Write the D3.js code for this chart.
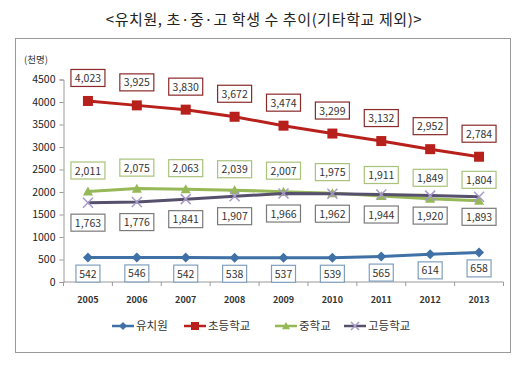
<!DOCTYPE html>
<html>
<head>
<meta charset="utf-8">
<script src="https://cdn.jsdelivr.net/npm/d3@7"></script>
<style>
body { margin: 0; background: #fff; }
text { font-family: "Noto Sans CJK KR", "Noto Sans", sans-serif; }
</style>
</head>
<body>
<svg id="chart" width="529" height="366"></svg>
<script>
// data
var years = ["2005", "2006", "2007", "2008", "2009", "2010", "2011", "2012", "2013"];
var kinder = [542, 546, 542, 538, 537, 539, 565, 614, 658];
var elem = [4023, 3925, 3830, 3672, 3474, 3299, 3132, 2952, 2784];
var middle = [2011, 2075, 2063, 2039, 2007, 1975, 1911, 1849, 1804];
var high = [1763, 1776, 1841, 1907, 1966, 1962, 1944, 1920, 1893];
var yTicks = [0, 500, 1000, 1500, 2000, 2500, 3000, 3500, 4000, 4500];

var series = [
    {name: "유치원", values: kinder, color: "#3f70a6", marker: "diamond", labelDy: 16, box: "#7f9fbf", boxW: 24},
    {name: "초등학교", values: elem, color: "#b8201c", marker: "square", labelDy: -23, box: "#8a2a2a", boxW: 34},
    {name: "중학교", values: middle, color: "#96b856", marker: "triangle", labelDy: -21, box: "#a9c27a", boxW: 34},
    {name: "고등학교", values: high, color: "#56506c", marker: "cross", labelDy: 20, box: "#7a7a7a", boxW: 34}
];

var svg = d3.select("#chart");

svg.append("text")
    .attr("x", 264).attr("y", 25)
    .attr("text-anchor", "middle")
    .attr("font-size", 15)
    .attr("letter-spacing", 0.6)
    .attr("fill", "#222")
    .text("<유치원, 초·중·고 학생 수 추이(기타학교 제외)>");

// frame
svg.append("rect")
    .attr("x", 15.5).attr("y", 38.5)
    .attr("width", 495).attr("height", 314)
    .attr("fill", "none")
    .attr("stroke", "#9a9a9a");

var x = d3.scaleBand().domain(years).range([63.5, 503.5]);
var y = d3.scaleLinear().domain([0, 4500]).range([282, 79.5]);

svg.append("text")
    .attr("x", 24).attr("y", 63)
    .attr("font-size", 9.5)
    .attr("fill", "#333")
    .text("(천명)");

var yAxis = svg.append("g")
    .attr("transform", "translate(63.5,0)")
    .call(d3.axisLeft(y).tickValues(yTicks).tickSize(4).tickFormat(d3.format("d")));
yAxis.select(".domain").attr("stroke", "#999");
yAxis.selectAll(".tick line").attr("stroke", "#999");
yAxis.selectAll("text").attr("font-size", 10.5).attr("fill", "#222").attr("x", -8);

var xAxis = svg.append("g")
    .attr("transform", "translate(0,282)");
xAxis.append("line")
    .attr("x1", 63.5).attr("x2", 503.5)
    .attr("stroke", "#999");
xAxis.selectAll(".xt")
    .data(years.concat(["end"]))
    .enter().append("line")
    .attr("x1", function(d, i) { return 63.5 + i * x.step(); })
    .attr("x2", function(d, i) { return 63.5 + i * x.step(); })
    .attr("y1", 0).attr("y2", 4)
    .attr("stroke", "#999");
xAxis.selectAll(".xl")
    .data(years)
    .enter().append("text")
    .attr("x", function(d) { return x(d) + x.bandwidth() / 2; })
    .attr("y", 21)
    .attr("text-anchor", "middle")
    .attr("font-size", 9)
    .attr("font-weight", "bold")
    .attr("fill", "#333")
    .text(function(d) { return d; });

var cx = function(i) { return x(years[i]) + x.bandwidth() / 2; };

function drawMarker(g, type, color, px, py, s) {
    if (type == "square") {
        g.append("rect").attr("x", px - s).attr("y", py - s).attr("width", 2 * s).attr("height", 2 * s).attr("fill", color);
    } else if (type == "diamond") {
        g.append("path").attr("d", "M" + px + "," + (py - s) + "L" + (px + s) + "," + py + "L" + px + "," + (py + s) + "L" + (px - s) + "," + py + "Z").attr("fill", color);
    } else if (type == "triangle") {
        g.append("path").attr("d", "M" + px + "," + (py - s) + "L" + (px + s) + "," + (py + s * 0.8) + "L" + (px - s) + "," + (py + s * 0.8) + "Z").attr("fill", color);
    } else {
        g.append("path").attr("d", "M" + (px - s) + "," + (py - s) + "L" + (px + s) + "," + (py + s) + "M" + (px + s) + "," + (py - s) + "L" + (px - s) + "," + (py + s)).attr("stroke", "#a89ac8").attr("stroke-width", 1.5);
    }
}

var line = d3.line()
    .x(function(d, i) { return cx(i); })
    .y(function(d) { return y(d); });

series.forEach(function(s) {
    var g = svg.append("g");
    g.append("path")
        .datum(s.values)
        .attr("d", line)
        .attr("fill", "none")
        .attr("stroke", s.color)
        .attr("stroke-width", 3);
    s.values.forEach(function(v, i) {
        drawMarker(g, s.marker, s.color, cx(i), y(v), 5);
    });
});

// value labels
var fmt = d3.format(",");
series.forEach(function(s) {
    var g = svg.append("g");
    s.values.forEach(function(v, i) {
        var ly = y(v) + s.labelDy;
        g.append("rect")
            .attr("x", cx(i) - s.boxW / 2).attr("y", ly - 8.5)
            .attr("width", s.boxW).attr("height", 17)
            .attr("fill", "#fff")
            .attr("stroke", s.box)
            .attr("stroke-width", 1.2);
        g.append("text")
            .attr("x", cx(i)).attr("y", ly + 4)
            .attr("text-anchor", "middle")
            .attr("font-size", 10.5)
            .attr("fill", "#333")
            .text(fmt(v));
    });
});

// legend
var legendX = [112, 184, 275, 344];
series.forEach(function(s, i) {
    var g = svg.append("g");
    var lx = legendX[i], ly = 326;
    g.append("line")
        .attr("x1", lx).attr("x2", lx + 22)
        .attr("y1", ly).attr("y2", ly)
        .attr("stroke", s.color).attr("stroke-width", 2.5);
    drawMarker(g, s.marker, s.color, lx + 11, ly, 4);
    g.append("text")
        .attr("x", lx + 24).attr("y", ly + 4)
        .attr("font-size", 11.5)
        .attr("fill", "#333")
        .text(s.name);
});
</script>
</body>
</html>
